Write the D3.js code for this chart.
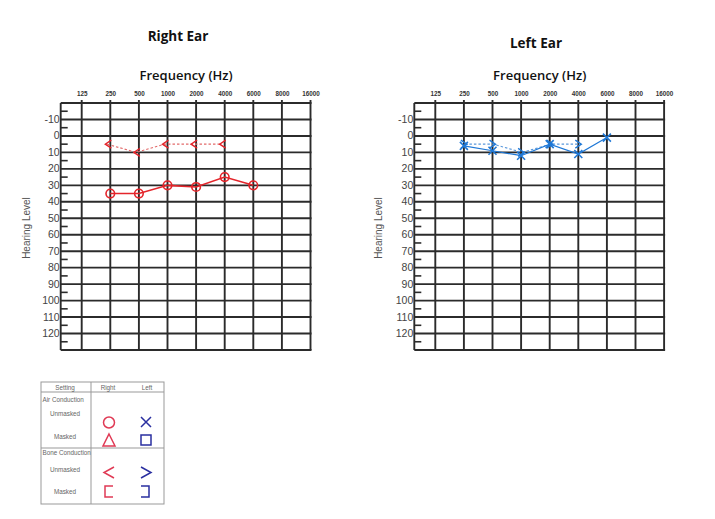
<!DOCTYPE html>
<html>
<head>
<meta charset="utf-8">
<script src="https://cdn.jsdelivr.net/npm/d3@7"></script>
<style>
  body { margin: 0; background: #fff; }
  svg { display: block; }
</style>
</head>
<body>
<div id="chart"></div>
<script>
// Data
const freqLabels = ["125", "250", "500", "1000", "2000", "4000", "6000", "8000", "16000"];
const hlTicks = [-10, 0, 10, 20, 30, 40, 50, 60, 70, 80, 90, 100, 110, 120];

const rightAirFreq = ["250", "500", "1000", "2000", "4000", "6000"];
const rightAirHL = [35, 35, 30, 31, 25, 30];
const rightBoneFreq = ["250", "500", "1000", "2000", "4000"];
const rightBoneHL = [5, 10, 5, 5, 5];

const leftAirFreq = ["250", "500", "1000", "2000", "4000", "6000"];
const leftAirHL = [6, 9, 12, 5, 11, 1];
const leftBoneFreq = ["250", "500", "1000", "2000", "4000"];
const leftBoneHL = [5, 5, 10, 5, 5];

const legendRows = ["Unmasked", "Masked"];

const RED = "#e4252b";
const BLUE = "#1f78d6";
const GRID = "#2b2b2b";

const W = 715, H = 519;
const svg = d3.select("#chart").append("svg")
    .attr("width", W)
    .attr("height", H)
    .style("font-family", "Arial, 'Liberation Sans', sans-serif");

const plotTop = 103, plotBottom = 350;
const y = d3.scaleLinear().domain([-20, 130]).range([plotTop, plotBottom]);

function drawAudiogram(cfg) {
    const x = d3.scalePoint()
        .domain(freqLabels)
        .range([cfg.left + 21, cfg.left + 21 + 8 * 28.6]);
    const right = x("16000");
    const g = svg.append("g");

    // horizontal grid, every 10 dB incl. top and bottom border
    const hLines = [-20].concat(hlTicks, [130]);
    g.selectAll(".h").data(hLines).join("line")
        .attr("x1", cfg.left).attr("x2", right + 1)
        .attr("y1", d => y(d)).attr("y2", d => y(d))
        .attr("stroke", GRID).attr("stroke-width", 1.9);

    // vertical grid
    g.selectAll(".v").data(freqLabels).join("line")
        .attr("x1", d => x(d)).attr("x2", d => x(d))
        .attr("y1", plotTop - 3).attr("y2", plotBottom)
        .attr("stroke", GRID).attr("stroke-width", 1.9);

    // left border
    g.append("line")
        .attr("x1", cfg.left).attr("x2", cfg.left)
        .attr("y1", plotTop).attr("y2", plotBottom)
        .attr("stroke", GRID).attr("stroke-width", 1.9);

    // minor 5 dB ticks
    g.selectAll(".m").data(hLines.slice(0, -1).map(d => d + 5)).join("line")
        .attr("x1", cfg.left).attr("x2", cfg.left + 7)
        .attr("y1", d => y(d)).attr("y2", d => y(d))
        .attr("stroke", GRID).attr("stroke-width", 1.6);

    // y labels
    const yAxis = d3.axisLeft(y).tickValues(hlTicks).tickFormat(d => String(d))
        .tickSize(0).tickPadding(1);
    const ya = g.append("g").attr("transform", `translate(${cfg.left},0)`).call(yAxis);
    ya.select(".domain").remove();
    ya.selectAll("text").attr("font-size", 10.5).attr("fill", "#444").attr("dy", "0.28em")
        .style("font-family", "Arial, 'Liberation Sans', sans-serif");

    // x labels
    const xAxis = d3.axisTop(x).tickSize(0).tickPadding(0);
    const xa = g.append("g").attr("transform", `translate(0,${96})`).call(xAxis);
    xa.select(".domain").remove();
    xa.selectAll("text").attr("font-size", 6.3).attr("fill", "#333").attr("font-weight", "bold")
        .style("font-family", "Arial, 'Liberation Sans', sans-serif");

    // titles
    const mid = (cfg.left + right) / 2;
    g.append("text").attr("x", cfg.titleX).attr("y", cfg.titleY)
        .attr("text-anchor", "middle").attr("font-size", 13.5).attr("font-weight", 700)
        .style("font-family", "'Open Sans', sans-serif").attr("fill", "#111")
        .text(cfg.title);
    g.append("text").attr("x", mid + 0.5).attr("y", 80)
        .attr("text-anchor", "middle").attr("font-size", 13).attr("font-weight", 600)
        .style("font-family", "'Open Sans', sans-serif").attr("fill", "#111")
        .text("Frequency (Hz)");
    g.append("text")
        .attr("transform", `translate(${cfg.hlX},228) rotate(-90)`)
        .attr("text-anchor", "middle").attr("font-size", 10).attr("fill", "#555")
        .text("Hearing Level");

    return { g, x };
}

// Right ear
const R = drawAudiogram({ left: 60.7, title: "Right Ear", titleX: 178, titleY: 41, hlX: 30 });
const rAir = rightAirFreq.map((f, i) => ({ f, v: rightAirHL[i] }));
const rBone = rightBoneFreq.map((f, i) => ({ f, v: rightBoneHL[i] }));

R.g.append("path").datum(rBone)
    .attr("d", d3.line().x(d => R.x(d.f) - 3).y(d => y(d.v)))
    .attr("fill", "none").attr("stroke", "#e26a6a").attr("stroke-width", 1.1)
    .attr("stroke-dasharray", "2.5,2");
R.g.selectAll(".rb").data(rBone).join("path")
    .attr("d", d => {
        const cx = R.x(d.f), cy = y(d.v);
        return `M${cx + 1},${cy - 4}L${cx - 5},${cy}L${cx + 1},${cy + 4}`;
    })
    .attr("fill", "none").attr("stroke", RED).attr("stroke-width", 1.4);

R.g.append("path").datum(rAir)
    .attr("d", d3.line().x(d => R.x(d.f)).y(d => y(d.v)))
    .attr("fill", "none").attr("stroke", RED).attr("stroke-width", 1.6);
R.g.selectAll(".ra").data(rAir).join("circle")
    .attr("cx", d => R.x(d.f)).attr("cy", d => y(d.v)).attr("r", 4.3)
    .attr("fill", "none").attr("stroke", RED).attr("stroke-width", 1.6);

// Left ear
const L = drawAudiogram({ left: 414.3, title: "Left Ear", titleX: 536, titleY: 48, hlX: 382 });
const lAir = leftAirFreq.map((f, i) => ({ f, v: leftAirHL[i] }));
const lBone = leftBoneFreq.map((f, i) => ({ f, v: leftBoneHL[i] }));

L.g.append("path").datum(lBone)
    .attr("d", d3.line().x(d => L.x(d.f) + 1).y(d => y(d.v)))
    .attr("fill", "none").attr("stroke", "#5a98dc").attr("stroke-width", 1.1)
    .attr("stroke-dasharray", "2.5,2");
L.g.selectAll(".lb").data(lBone).join("path")
    .attr("d", d => {
        const cx = L.x(d.f), cy = y(d.v);
        return `M${cx - 3},${cy - 4}L${cx + 3},${cy}L${cx - 3},${cy + 4}`;
    })
    .attr("fill", "none").attr("stroke", BLUE).attr("stroke-width", 1.4);

L.g.append("path").datum(lAir)
    .attr("d", d3.line().x(d => L.x(d.f)).y(d => y(d.v)))
    .attr("fill", "none").attr("stroke", BLUE).attr("stroke-width", 1.2);
L.g.selectAll(".la").data(lAir).join("path")
    .attr("d", d => {
        const cx = L.x(d.f), cy = y(d.v), s = 4;
        return `M${cx - s},${cy - s}L${cx + s},${cy + s}M${cx - s},${cy + s}L${cx + s},${cy - s}`;
    })
    .attr("fill", "none").attr("stroke", BLUE).attr("stroke-width", 1.6);

// Legend
const lg = svg.append("g");
const LX0 = 41, LX1 = 164, LC = 91, LY0 = 382, LY1 = 392, LY2 = 448, LY3 = 504;
const LRED = "#e03a55", LBLUE = "#2a2fa0";
lg.append("rect").attr("x", LX0).attr("y", LY0).attr("width", LX1 - LX0).attr("height", LY3 - LY0)
    .attr("fill", "none").attr("stroke", "#999").attr("stroke-width", 1);
[LY1, LY2].forEach(yy => lg.append("line").attr("x1", LX0).attr("x2", LX1)
    .attr("y1", yy).attr("y2", yy).attr("stroke", "#999"));
lg.append("line").attr("x1", LC).attr("x2", LC).attr("y1", LY0).attr("y2", LY3).attr("stroke", "#999");

const lt = (t, xx, yy, anchor) => lg.append("text").attr("x", xx).attr("y", yy)
    .attr("text-anchor", anchor || "middle").attr("font-size", 6.3).attr("fill", "#666").text(t);
lt("Setting", 65, 390);
lt("Right", 108, 390);
lt("Left", 147, 390);
lt("Air Conduction", 42.5, 402, "start");
lt(legendRows[0], 65, 416);
lt(legendRows[1], 65, 439);
lt("Bone Conduction", 42.5, 455, "start");
lt(legendRows[0], 65, 472);
lt(legendRows[1], 65, 494);

const sym = (d, c) => lg.append("path").attr("d", d).attr("fill", "none")
    .attr("stroke", c).attr("stroke-width", 1.5);
lg.append("circle").attr("cx", 109).attr("cy", 422.5).attr("r", 5.5)
    .attr("fill", "none").attr("stroke", LRED).attr("stroke-width", 1.5);
sym("M141,417L151,427M141,427L151,417", LBLUE);
sym("M109,434L115,446L103,446Z", LRED);
sym("M141,435h10v10h-10Z", LBLUE);
sym("M114,467L104,472.5L114,478", LRED);
sym("M141,467L151,472.5L141,478", LBLUE);
sym("M113,486H105V497H113", LRED);
sym("M141,486H149V497H141", LBLUE);
</script>
</body>
</html>
